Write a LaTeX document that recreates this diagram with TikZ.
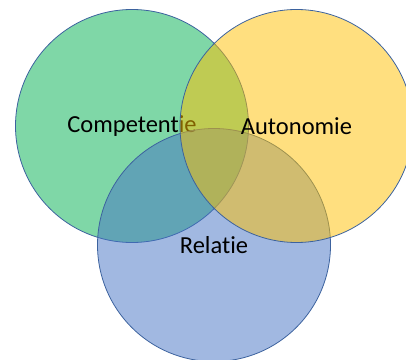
\documentclass[tikz,border=0pt]{standalone}
\usepackage{fontspec}
\setmainfont{Carlito}[Ligatures=NoCommon]
\usepackage{tikz}

\definecolor{compgreen}{RGB}{0,176,80}
\definecolor{autoyellow}{RGB}{255,192,0}
\definecolor{relblue}{RGB}{68,114,196}
\definecolor{rimblue}{RGB}{60,98,158}

\tikzset{
	need/.style={circle, draw=rimblue, line width=0.8pt, minimum size=233pt,
		inner sep=0pt, fill opacity=0.5, text opacity=1,
		font=\fontsize{24.5}{29}\selectfont}
}

\begin{document}
\begin{tikzpicture}[x=1pt,y=1pt]
		\useasboundingbox (0,0) rectangle (406,359);

		% blue one goes under the yellow one
		\node[need, fill=compgreen] (comp) at (132,233) {Competentie};
		\node[need, fill=relblue] (rel) at (214,114) {Relatie};
		\node[need, fill=autoyellow] (auto) at (296.5,233) {Autonomie};

	\end{tikzpicture}
\end{document}
